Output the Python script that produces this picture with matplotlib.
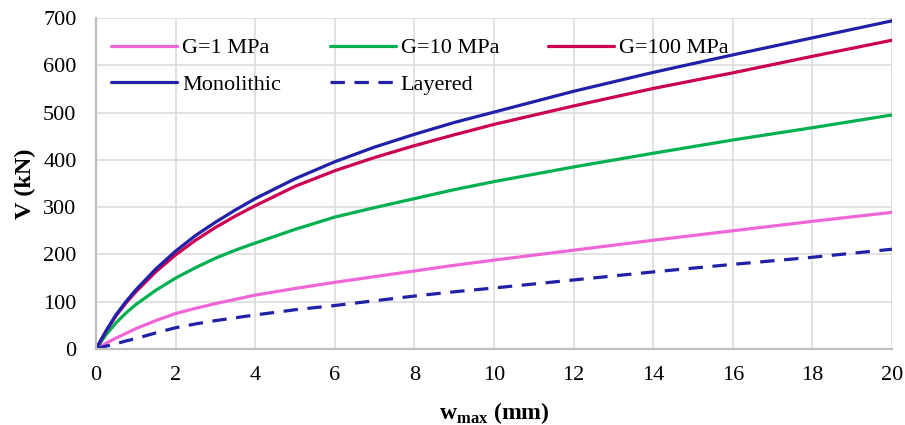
import matplotlib
matplotlib.use('Agg')
import matplotlib.pyplot as plt

# valores
w_max = [0, 0.25, 0.5, 0.75, 1, 1.5, 2, 2.5, 3, 3.5, 4, 5, 6, 7, 8, 9, 10, 12, 14, 16, 18, 20]
v_g1 = [0, 12, 23, 33, 43, 60, 75, 86, 96, 105, 114, 128, 141, 153, 165, 177, 188, 209, 230, 250, 270, 289]
v_g10 = [0, 30, 55, 76, 94, 124, 150, 172, 192, 209, 224, 253, 279, 299, 318, 337, 354, 385, 414, 442, 468, 495]
v_g100 = [0, 37, 70, 97, 121, 163, 199, 230, 257, 281, 303, 344, 377, 405, 430, 453, 475, 514, 551, 584, 619, 653]
v_mono = [0, 38, 72, 100, 125, 169, 207, 240, 268, 294, 318, 360, 396, 427, 454, 479, 501, 545, 585, 622, 658, 694]
v_layered = [0, 6, 11, 17, 22, 34, 45, 53, 60, 66, 72, 83, 92, 102, 112, 121, 129, 146, 163, 179, 194, 211]

x_ticks = list(range(0, 21, 2))
y_ticks = list(range(0, 701, 100))

plt.rcParams['font.family'] = ['Liberation Serif', 'DejaVu Serif']
plt.rcParams['mathtext.fontset'] = 'custom'
plt.rcParams['mathtext.rm'] = 'Liberation Serif'
plt.rcParams['mathtext.bf'] = 'Liberation Serif:bold'

fig = plt.figure(figsize=(9.05, 4.25), dpi=100)
ax = fig.add_axes([96 / 905, 1 - 349 / 425, 796 / 905, 331 / 425])

lw = 2.3
estilo = dict(lw=lw, solid_joinstyle='round', solid_capstyle='round')
l1, = ax.plot(w_max, v_g1, color='#F066D6', label='G=1 MPa', **estilo)
l2, = ax.plot(w_max, v_g10, color='#00B050', label='G=10 MPa', **estilo)
l3, = ax.plot(w_max, v_g100, color='#CC0052', label='G=100 MPa', **estilo)
l4, = ax.plot(w_max, v_mono, color='#2020A8', label='Monolithic', **estilo)
l5, = ax.plot(w_max, v_layered, color='#2020A8', lw=lw, dashes=(4.5, 3), label='Layered')

ax.set_xlim(0, 20)
ax.set_ylim(0, 700)
ax.set_xticks(x_ticks)
ax.set_yticks(y_ticks)
ax.grid(True, color='#D9D9D9', lw=1.1)
ax.set_axisbelow(True)
for lado in ['top', 'right']:
    ax.spines[lado].set_visible(False)
for lado in ['left', 'bottom']:
    ax.spines[lado].set_color('#BFBFBF')
    ax.spines[lado].set_linewidth(1.6)
ax.tick_params(length=0, labelsize=16, colors='black')
ax.tick_params(axis='x', pad=12)
ax.tick_params(axis='y', pad=14)

ax.set_xlabel(r'$\mathbf{w}_{\mathbf{max}}$ (mm)', fontsize=17, fontweight='bold', labelpad=11)
ax.set_ylabel('V (kN)', fontsize=17.5, fontweight='bold', labelpad=5)

# orden por columnas para que queden 3 arriba y 2 abajo
ax.legend([l1, l4, l2, l5, l3], ['G=1 MPa', 'Monolithic', 'G=10 MPa', 'Layered', 'G=100 MPa'],
          ncol=3, loc='upper left', bbox_to_anchor=(15 / 796, 0.94), frameon=False,
          fontsize=16, handlelength=2.97, handletextpad=0.22, columnspacing=2.2,
          labelspacing=0.72, borderpad=0, borderaxespad=0)

fig.savefig('out.png', dpi=100)
